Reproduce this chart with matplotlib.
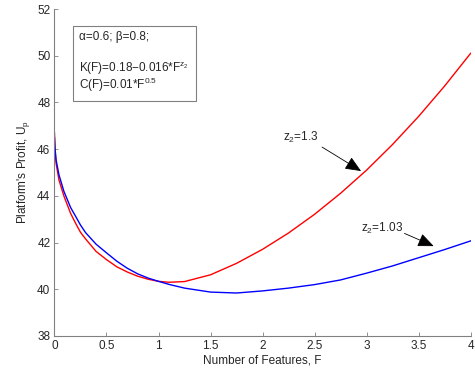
import matplotlib
matplotlib.use("Agg")
import matplotlib.pyplot as plt
from matplotlib.patches import Rectangle

plt.rcParams['font.family'] = ['Liberation Sans', 'DejaVu Sans']
plt.rcParams['mathtext.fontset'] = 'custom'
plt.rcParams['mathtext.rm'] = 'Liberation Sans'
plt.rcParams['mathtext.it'] = 'Liberation Sans'

# values
F = [0, 0.005, 0.015, 0.043, 0.09, 0.155, 0.2, 0.25, 0.3, 0.4, 0.5, 0.6, 0.7,
     0.8, 0.9, 1.0, 1.1, 1.25, 1.5, 1.75, 2.0, 2.25, 2.5, 2.75, 3.0, 3.25,
     3.5, 3.75, 4.0]
u_red = [46.7, 46.0, 45.4, 44.68, 44.0, 43.25, 42.85, 42.44, 42.15, 41.62,
         41.27, 40.96, 40.74, 40.56, 40.43, 40.34, 40.3, 40.33, 40.62, 41.11,
         41.71, 42.41, 43.21, 44.11, 45.1, 46.2, 47.4, 48.7, 50.1]
u_blue = [46.5, 46.05, 45.55, 44.9, 44.2, 43.5, 43.15, 42.75, 42.42, 41.93,
          41.56, 41.2, 40.9, 40.66, 40.48, 40.34, 40.21, 40.05, 39.88, 39.84,
          39.93, 40.05, 40.2, 40.4, 40.69, 41.0, 41.35, 41.7, 42.07]

xticks = [0, 0.5, 1, 1.5, 2, 2.5, 3, 3.5, 4]
xticklabels = ['0', '0.5', '1', '1.5', '2', '2.5', '3', '3.5', '4']
yticks = [38, 40, 42, 44, 46, 48, 50, 52]

fs = 8.5
tc = '#262626'

fig = plt.figure(figsize=(4.75, 3.72), dpi=100)
ax = fig.add_axes([0.1147, 0.0968, 0.876, 0.879])

ax.plot(F, u_red, color='#ff0000', lw=1.0)
ax.plot(F, u_blue, color='#0000ff', lw=1.0)

ax.set_xlim(0, 4)
ax.set_ylim(38, 52)
ax.set_xticks(xticks)
ax.set_xticklabels(xticklabels)
ax.set_yticks(yticks)
ax.tick_params(direction='in', length=3, width=0.6, color='#808080',
               labelsize=fs, labelcolor=tc, pad=3)
for s in ['top', 'right']:
    ax.spines[s].set_visible(False)
for s in ['left', 'bottom']:
    ax.spines[s].set_color('#808080')
    ax.spines[s].set_linewidth(0.8)

ax.set_xlabel('Number of Features, F', fontsize=fs, color=tc, labelpad=2)
ax.set_ylabel("Platform's Profit, U$_\\mathregular{p}$", fontsize=fs,
              color=tc, labelpad=4)

# text box
ax.add_patch(Rectangle((0.175, 48.06), 1.185, 3.22, fill=False,
                       edgecolor='#808080', lw=0.8))
ax.text(0.236, 50.82, 'α=0.6; β=0.8;', fontsize=fs, va='center', color=tc)
ax.text(0.236, 49.45, 'K(F)=0.18−0.016*F$^{\\mathregular{z_2}}$', fontsize=fs,
        va='center', color=tc)
ax.text(0.236, 48.76, 'C(F)=0.01*F$^{\\mathregular{0.5}}$', fontsize=fs,
        va='center', color=tc)

# arrows
ax.text(2.20, 46.5, 'z$_\\mathregular{2}$=1.3', fontsize=fs, va='center',
        color=tc)
ax.annotate('', xy=(2.97, 45.0), xytext=(2.55, 46.15),
            arrowprops=dict(arrowstyle='-|>,head_length=0.7,head_width=0.3',
                            color='black', lw=0.6, mutation_scale=14))
ax.text(2.95, 42.62, 'z$_\\mathregular{2}$=1.03', fontsize=fs, va='center',
        color=tc)
ax.annotate('', xy=(3.67, 41.8), xytext=(3.34, 42.44),
            arrowprops=dict(arrowstyle='-|>,head_length=0.7,head_width=0.3',
                            color='black', lw=0.6, mutation_scale=14))

fig.savefig('out.png', dpi=100)
